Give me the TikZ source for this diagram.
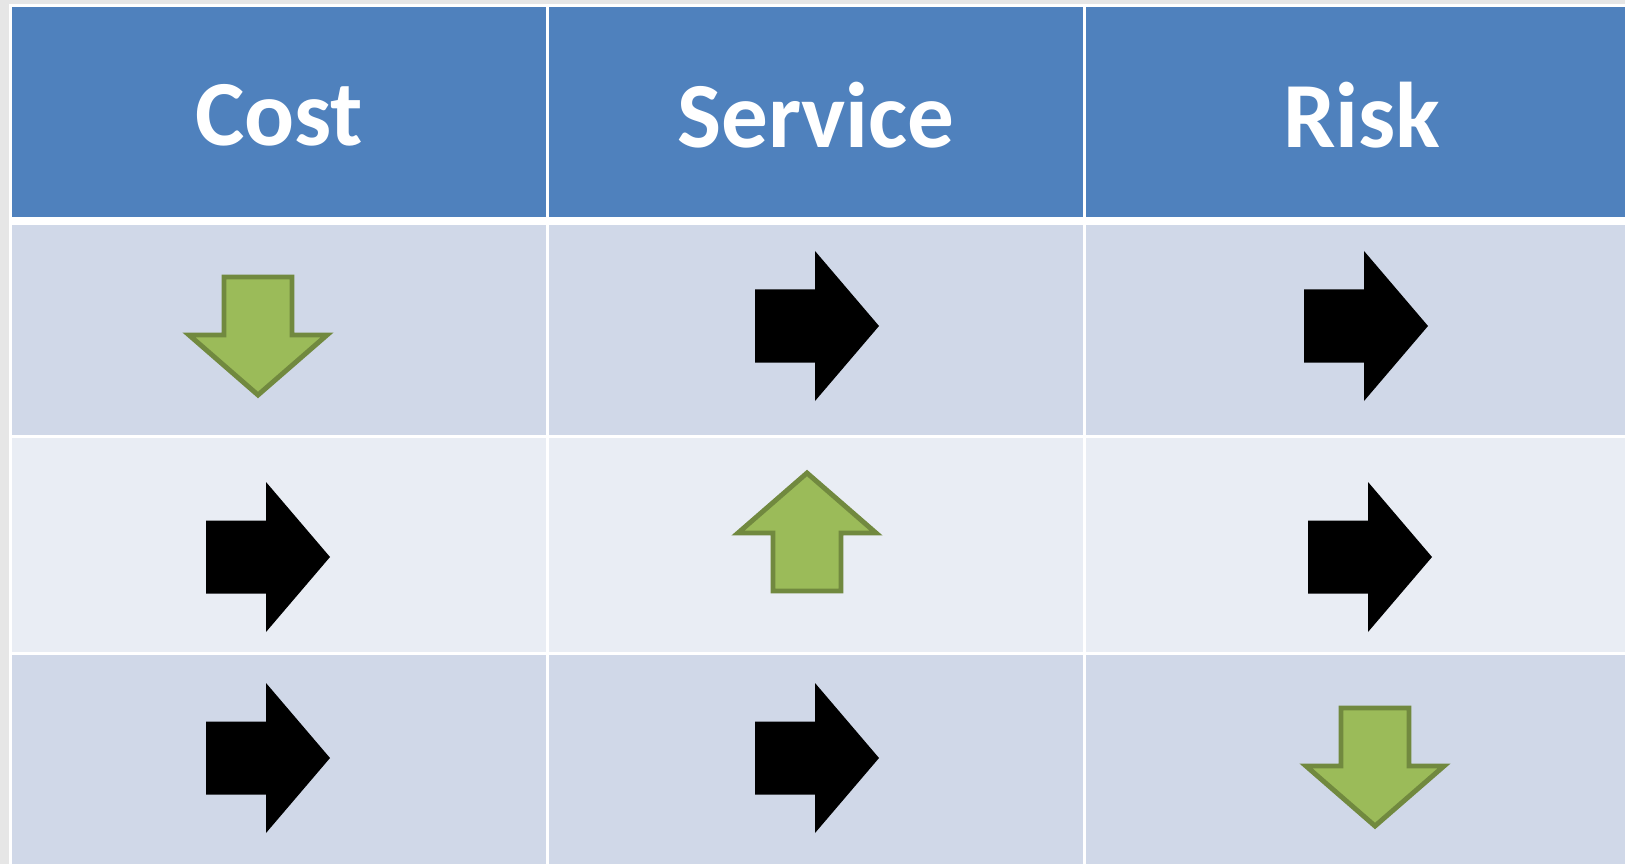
\documentclass[tikz,border=0pt]{standalone}
\usepackage{fontspec}
\setmainfont{Carlito}
\definecolor{hdrblue}{HTML}{4F81BD}
\definecolor{rowdark}{HTML}{D0D8E8}
\definecolor{rowlight}{HTML}{E9EDF4}
\definecolor{upgreen}{HTML}{9BBB59}
\definecolor{upedge}{HTML}{71893F}
\definecolor{pagegray}{HTML}{E6E6E6}
% black arrow pointing right, centred at (#1,#2)
\newcommand{\flatarrow}[2]{%
  \fill [black] (#1-62,#2-36.5) -- (#1-2,#2-36.5) -- (#1-2,#2-75) -- (#1+62,#2)
        -- (#1-2,#2+75) -- (#1-2,#2+36.5) -- (#1-62,#2+36.5) -- cycle;}
% green arrow pointing down, centred at (#1,#2)
\newcommand{\greendown}[2]{%
  \draw [greenarr] (#1-34,#2-59) -- (#1+34,#2-59) -- (#1+34,#2-1) -- (#1+69,#2-1)
        -- (#1,#2+59) -- (#1-69,#2-1) -- (#1-34,#2-1) -- cycle;}
% green arrow pointing up, centred at (#1,#2)
\newcommand{\greenup}[2]{%
  \draw [greenarr] (#1-34,#2+59) -- (#1+34,#2+59) -- (#1+34,#2+1) -- (#1+69,#2+1)
        -- (#1,#2-59) -- (#1-69,#2+1) -- (#1-34,#2+1) -- cycle;}
\tikzset{
  greenarr/.style={fill=upgreen, draw=upedge, line width=1.4pt, line join=miter},
  hdrtext/.style={text=white, font=\bfseries\fontsize{26.5}{32}\selectfont, inner sep=0pt},
}
\begin{document}
\begin{tikzpicture}[x=0.01cm, y=-0.01cm]
        \useasboundingbox (0,0) rectangle (1625,864);
        \fill [pagegray]             (0,0) rectangle (1625,864);      %page
        \fill [white]                (9,4) rectangle (1625,864);      %
        \fill [hdrblue]  (12,7)   rectangle (546,217);                %header
        \fill [hdrblue]  (549,7)  rectangle (1083,217);               %
        \fill [hdrblue]  (1086,7) rectangle (1625,217);               %
        \foreach \xa/\xb in {12/546, 549/1083, 1086/1625} {
          \fill [rowdark]  (\xa,225) rectangle (\xb,435);             %row 1
          \fill [rowlight] (\xa,438) rectangle (\xb,652);             %row 2
          \fill [rowdark]  (\xa,655) rectangle (\xb,864);             %row 3
        }
        \node [hdrtext] (cost)    at (279,115)  {Cost};               %
        \node [hdrtext] (service) at (816,115)  {Service};            %
        \node [hdrtext] (risk)    at (1362,115) {Risk};               %
        \greendown{258}{336}                                          %row 1
        \flatarrow{817}{326}                                          %
        \flatarrow{1366}{326}                                         %
        \flatarrow{268}{557}                                          %row 2
        \greenup{807}{532}                                            %
        \flatarrow{1370}{557}                                         %
        \flatarrow{268}{758}                                          %row 3
        \flatarrow{817}{758}                                          %
        \greendown{1375}{767}                                         %
       \end{tikzpicture}
\end{document}
